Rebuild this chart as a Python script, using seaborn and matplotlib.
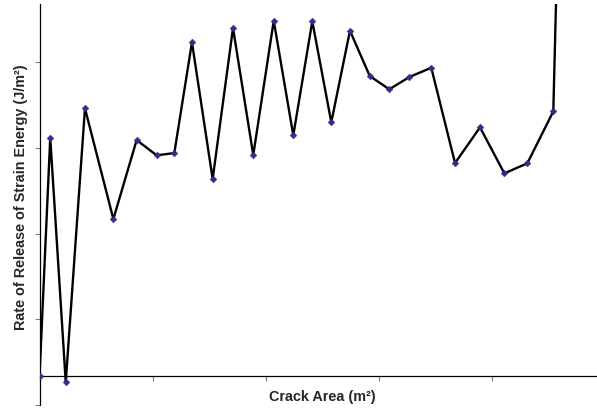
import matplotlib
matplotlib.use("Agg")
import matplotlib.pyplot as plt
import seaborn as sns
import pandas as pd

# Crack area (axis units) and rate of release of strain energy (J/m^2)
crack_area = [0.000, 0.095, 0.232, 0.402, 0.653, 0.859, 1.036, 1.192, 1.348,
              1.531, 1.711, 1.890, 2.071, 2.244, 2.412, 2.580, 2.745, 2.920,
              3.093, 3.270, 3.464, 3.674, 3.895, 4.110, 4.313, 4.543, 4.584]
release_rate = [0.0, 167.0, -4.1, 187.6, 110.1, 165.4, 154.7, 156.3, 233.8,
                138.1, 243.8, 154.9, 248.9, 168.7, 248.5, 177.8, 241.9, 210.2,
                200.9, 209.5, 216.0, 149.3, 174.3, 142.1, 149.1, 185.5, 316.0]

y_ticks = [-20, 40, 100, 160, 220]
x_ticks = [0, 1, 2, 3, 4, 5]

df = pd.DataFrame({"area": crack_area, "rate": release_rate})

sns.set_style("white")
plt.rcParams["font.family"] = ["Liberation Sans", "DejaVu Sans"]

W, H = 597, 408
fig = plt.figure(figsize=(W / 100, H / 100), dpi=100)
left_px, right_px = 39.5, 605.0
top_px, bottom_px = 4.0, 405.0
ax = fig.add_axes([left_px / W, 1 - bottom_px / H,
                   (right_px - left_px) / W, (bottom_px - top_px) / H])

sns.lineplot(data=df, x="area", y="rate", sort=False, color="black",
             linewidth=1.7, ax=ax, estimator=None)
sns.scatterplot(data=df, x="area", y="rate", marker="D", s=12,
                color="#2e2e8c", edgecolor="#2e2e8c", linewidth=0.3,
                ax=ax, zorder=3)

ax.set_xlim(0, 5)
ax.set_ylim(-20, 260.6)
ax.set_xticks(x_ticks)
ax.set_yticks(y_ticks)
ax.set_xticklabels([])
ax.set_yticklabels([])
ax.set_xlabel("")
ax.set_ylabel("")

for side in ("top", "right"):
    ax.spines[side].set_visible(False)
ax.spines["bottom"].set_position(("data", 0))
for side in ("left", "bottom"):
    ax.spines[side].set_color("black")
    ax.spines[side].set_linewidth(0.9)
ax.tick_params(axis="both", direction="out", length=3.5, width=0.8,
               color="#808080", bottom=True, left=True)

fig.text(322.5 / W, 1 - 397 / H, "Crack Area (m²)", ha="center", va="center",
         fontsize=10.4, fontweight="bold")
fig.text(21.5 / W, 1 - 197 / H, "Rate of Release of Strain Energy (J/m²)",
         ha="center", va="center", rotation=90, fontsize=10.4,
         fontweight="bold")

fig.savefig("out.png", dpi=100)
